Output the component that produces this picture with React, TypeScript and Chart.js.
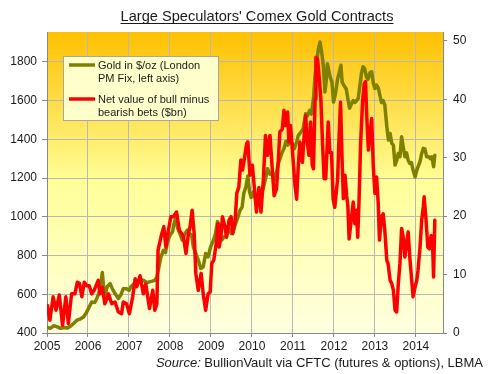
import React, { useEffect, useRef } from 'react';
import { Chart, registerables } from 'chart.js';

Chart.register(...registerables);

const titleText = "Large Speculators' Comex Gold Contracts";
const yearTicks = [2005, 2006, 2007, 2008, 2009, 2010, 2011, 2012, 2013, 2014];
const leftTicks = [400, 600, 800, 1000, 1200, 1400, 1600, 1800];
const rightTicks = [0, 10, 20, 30, 40, 50];
const legendGold = ['Gold in $/oz (London', 'PM Fix, left axis)'];
const legendNet = ['Net value of bull minus', 'bearish bets ($bn)'];
const sourceItalic = 'Source:';
const sourceRest = ' BullionVault via CFTC (futures & options), LBMA';

const goldDates = [
  2005.00, 2005.08, 2005.17, 2005.25, 2005.33, 2005.42, 2005.50, 2005.58, 2005.65, 2005.73,
  2005.81, 2005.89, 2005.96, 2006.03, 2006.09, 2006.17, 2006.23, 2006.29, 2006.35, 2006.38,
  2006.42, 2006.47, 2006.54, 2006.60, 2006.66, 2006.74, 2006.80, 2006.86, 2006.94, 2007.00,
  2007.05, 2007.13, 2007.19, 2007.27, 2007.35, 2007.44, 2007.50, 2007.57, 2007.63, 2007.68,
  2007.73, 2007.78, 2007.84, 2007.89, 2007.94, 2008.00, 2008.06, 2008.10, 2008.14, 2008.19,
  2008.24, 2008.30, 2008.37, 2008.42, 2008.47, 2008.53, 2008.57, 2008.63, 2008.69, 2008.75,
  2008.81, 2008.87, 2008.93, 2008.99, 2009.06, 2009.11, 2009.16, 2009.20, 2009.26, 2009.32,
  2009.38, 2009.44, 2009.49, 2009.54, 2009.60, 2009.66, 2009.71, 2009.76, 2009.80, 2009.85,
  2009.90, 2009.94, 2009.98, 2010.04, 2010.10, 2010.16, 2010.22, 2010.28, 2010.33, 2010.38,
  2010.44, 2010.50, 2010.55, 2010.60, 2010.64, 2010.70, 2010.74, 2010.78, 2010.83, 2010.87,
  2010.92, 2010.97, 2011.03, 2011.09, 2011.13, 2011.17, 2011.25, 2011.31, 2011.35, 2011.41,
  2011.45, 2011.50, 2011.54, 2011.58, 2011.62, 2011.66, 2011.70, 2011.74, 2011.78, 2011.81,
  2011.84, 2011.87, 2011.91, 2011.95, 2011.99, 2012.04, 2012.09, 2012.13, 2012.17, 2012.20,
  2012.24, 2012.30, 2012.34, 2012.38, 2012.43, 2012.47, 2012.51, 2012.55, 2012.59, 2012.63,
  2012.67, 2012.71, 2012.75, 2012.79, 2012.83, 2012.88, 2012.92, 2012.96, 2013.00, 2013.04,
  2013.08, 2013.12, 2013.16, 2013.20, 2013.24, 2013.29, 2013.33, 2013.37, 2013.41, 2013.45,
  2013.49, 2013.53, 2013.57, 2013.61, 2013.65, 2013.69, 2013.73, 2013.77, 2013.81, 2013.85,
  2013.89, 2013.93, 2013.98, 2014.02, 2014.05, 2014.10, 2014.14, 2014.18, 2014.22, 2014.26,
  2014.31, 2014.35, 2014.39, 2014.43, 2014.46,
];
const goldPrice = [
  428, 424, 438, 432, 424, 428, 426, 436, 449, 466,
  472, 483, 505, 534, 560, 558, 586, 620, 712, 640,
  600, 640, 655, 625, 604, 578, 596, 629, 629, 620,
  640, 655, 664, 675, 672, 660, 664, 668, 672, 689,
  741, 793, 827, 815, 870, 905, 922, 965, 995, 940,
  914, 880, 914, 931, 914, 905, 844, 810, 776, 733,
  741, 810, 793, 844, 879, 914, 975, 960, 879, 896,
  905, 940, 914, 922, 965, 1000, 1034, 1050, 1120, 1154,
  1210, 1130, 1100, 1130, 1080, 1110, 1110, 1150, 1196, 1248,
  1220, 1230, 1190, 1230, 1273, 1310, 1334, 1351, 1390, 1370,
  1385, 1385, 1351, 1385, 1420, 1430, 1454, 1532, 1520, 1550,
  1530, 1609, 1730, 1799, 1868, 1902, 1851, 1782, 1644, 1700,
  1790, 1760, 1720, 1696, 1592, 1640, 1713, 1747, 1782, 1696,
  1680, 1660, 1609, 1560, 1585, 1600, 1590, 1600, 1610, 1671,
  1740, 1775, 1765, 1723, 1710, 1745, 1749, 1690, 1663, 1680,
  1665, 1628, 1590, 1600, 1577, 1465, 1396, 1430, 1379, 1370,
  1267, 1290, 1327, 1310, 1413, 1360, 1310, 1330, 1292, 1275,
  1280, 1241, 1206, 1240, 1258, 1285, 1327, 1353, 1350, 1310,
  1310, 1300, 1310, 1258, 1318,
];

const netDates = [
  2005.01, 2005.07, 2005.15, 2005.22, 2005.30, 2005.38, 2005.46, 2005.52, 2005.60, 2005.68,
  2005.74, 2005.79, 2005.85, 2005.91, 2005.97, 2006.03, 2006.09, 2006.15, 2006.25, 2006.29,
  2006.35, 2006.41, 2006.50, 2006.58, 2006.66, 2006.74, 2006.82, 2006.86, 2006.94, 2007.01,
  2007.09, 2007.15, 2007.19, 2007.27, 2007.35, 2007.41, 2007.50, 2007.58, 2007.63, 2007.68,
  2007.71, 2007.80, 2007.85, 2007.90, 2007.96, 2008.02, 2008.08, 2008.16, 2008.23, 2008.29,
  2008.33, 2008.39, 2008.45, 2008.49, 2008.54, 2008.59, 2008.63, 2008.69, 2008.76, 2008.81,
  2008.87, 2008.93, 2008.98, 2009.02, 2009.07, 2009.14, 2009.17, 2009.20, 2009.24, 2009.28,
  2009.34, 2009.38, 2009.44, 2009.49, 2009.53, 2009.59, 2009.63, 2009.68, 2009.73, 2009.77,
  2009.81, 2009.87, 2009.90, 2009.95, 2010.01, 2010.06, 2010.11, 2010.17, 2010.22, 2010.28,
  2010.33, 2010.38, 2010.44, 2010.50, 2010.54, 2010.60, 2010.64, 2010.68, 2010.74, 2010.78,
  2010.82, 2010.87, 2010.90, 2010.94, 2010.99, 2011.05, 2011.09, 2011.13, 2011.17, 2011.23,
  2011.28, 2011.31, 2011.35, 2011.39, 2011.43, 2011.47, 2011.50, 2011.54, 2011.56, 2011.60,
  2011.63, 2011.68, 2011.72, 2011.76, 2011.80, 2011.86, 2011.90, 2011.94, 2011.98, 2012.02,
  2012.09, 2012.12, 2012.16, 2012.20, 2012.23, 2012.27, 2012.31, 2012.34, 2012.37, 2012.43,
  2012.47, 2012.51, 2012.55, 2012.58, 2012.61, 2012.65, 2012.70, 2012.74, 2012.77, 2012.80,
  2012.84, 2012.88, 2012.92, 2012.96, 2013.00, 2013.04, 2013.08, 2013.11, 2013.16, 2013.20,
  2013.24, 2013.29, 2013.32, 2013.37, 2013.41, 2013.45, 2013.49, 2013.53, 2013.57, 2013.61,
  2013.65, 2013.69, 2013.73, 2013.77, 2013.81, 2013.85, 2013.89, 2013.93, 2013.98, 2014.02,
  2014.05, 2014.10, 2014.14, 2014.18, 2014.20, 2014.24, 2014.29, 2014.33, 2014.37, 2014.41,
  2014.43, 2014.46,
];
const netValue = [
  4.7, 2.2, 6.2, 3.9, 6.5, 1.3, 6.2, 1.6, 6.7, 6.7,
  8.7, 8.5, 6.2, 8.7, 8.1, 8.1, 6.7, 7.3, 9.0, 6.7,
  7.8, 5.0, 6.7, 5.0, 5.3, 3.6, 3.3, 5.3, 5.0, 3.3,
  6.2, 9.3, 7.9, 9.8, 6.7, 8.4, 4.2, 7.3, 3.9, 5.0,
  14.2, 17.0, 18.2, 14.7, 17.5, 19.9, 19.9, 20.7, 17.5, 17.0,
  16.4, 13.6, 17.0, 18.2, 21.0, 17.0, 10.2, 7.3, 10.2, 6.7,
  3.9, 6.7, 7.0, 11.9, 12.5, 15.9, 18.7, 14.7, 16.4, 19.9,
  18.2, 16.4, 19.3, 19.9, 17.0, 19.3, 23.9, 25.0, 29.6, 27.9,
  29.6, 32.4, 32.7, 27.0, 28.7, 24.7, 20.7, 24.9, 20.7, 26.4,
  33.8, 30.4, 33.8, 27.5, 23.5, 24.7, 29.2, 34.4, 34.9, 38.1,
  35.5, 37.8, 32.7, 35.5, 30.9, 25.2, 22.9, 28.7, 32.7, 29.2,
  34.4, 37.2, 32.7, 30.4, 36.1, 28.7, 28.1, 40.1, 47.2, 46.9,
  44.6, 40.1, 32.7, 26.4, 26.4, 36.1, 30.9, 30.9, 22.9, 21.5,
  26.4, 32.7, 39.5, 29.2, 23.0, 27.0, 23.5, 21.6, 16.1, 19.9,
  22.4, 18.7, 21.0, 16.4, 22.2, 32.4, 39.8, 42.7, 43.0, 37.0,
  31.3, 34.1, 36.7, 28.4, 23.9, 26.7, 22.2, 15.9, 19.9, 20.4,
  17.6, 12.4, 11.9, 9.0, 8.5, 7.3, 3.9, 3.6, 8.5, 11.9,
  17.9, 16.4, 13.0, 15.3, 17.3, 13.0, 9.6, 6.2, 7.9, 9.0,
  10.7, 14.7, 19.3, 21.6, 23.3, 19.9, 14.7, 14.4, 16.7, 14.2,
  9.6, 19.3,
];

const FONT = '"Liberation Sans", Arial, Helvetica, sans-serif';
const GOLD = '#7F7F00';
const RED = '#FF0000';
const TEXT = '#1a1a1a';

const bgPlugin = {
  id: 'plotBg',
  beforeDraw(chart: any) {
    const { ctx, chartArea: a } = chart;
    const g = ctx.createLinearGradient(0, a.top, 0, a.bottom);
    g.addColorStop(0, '#FFC000');
    g.addColorStop(0.5, '#FFFF99');
    g.addColorStop(1, '#FFFFE0');
    ctx.save();
    ctx.fillStyle = g;
    ctx.fillRect(a.left, a.top, a.right - a.left, a.bottom - a.top);
    ctx.restore();
  },
};

const decorPlugin = {
  id: 'decor',
  afterDraw(chart: any) {
    const { ctx } = chart;
    ctx.save();
    // Title
    ctx.font = `14.6px ${FONT}`;
    ctx.fillStyle = TEXT;
    ctx.textAlign = 'center';
    ctx.textBaseline = 'alphabetic';
    const tx = 257;
    ctx.fillText(titleText, tx, 21);
    const tw = ctx.measureText(titleText).width;
    ctx.strokeStyle = TEXT;
    ctx.lineWidth = 1;
    ctx.beginPath();
    ctx.moveTo(tx - tw / 2, 23.5);
    ctx.lineTo(tx + tw / 2, 23.5);
    ctx.stroke();

    // Legend box
    ctx.fillStyle = '#FFFFCC';
    ctx.fillRect(63, 56, 156, 65);
    ctx.strokeStyle = '#A6A6A6';
    ctx.strokeRect(63.5, 56.5, 155, 64);
    ctx.lineWidth = 3.5;
    ctx.strokeStyle = GOLD;
    ctx.beginPath();
    ctx.moveTo(69, 65);
    ctx.lineTo(95, 65);
    ctx.stroke();
    ctx.strokeStyle = RED;
    ctx.beginPath();
    ctx.moveTo(69, 99);
    ctx.lineTo(95, 99);
    ctx.stroke();
    ctx.font = `11px ${FONT}`;
    ctx.fillStyle = TEXT;
    ctx.textAlign = 'left';
    ctx.fillText(legendGold[0], 98, 69);
    ctx.fillText(legendGold[1], 98, 82);
    ctx.fillText(legendNet[0], 98, 103);
    ctx.fillText(legendNet[1], 98, 116);

    // Source
    ctx.font = `13px ${FONT}`;
    const rw = ctx.measureText(sourceRest).width;
    ctx.font = `italic 13px ${FONT}`;
    const iw = ctx.measureText(sourceItalic).width;
    const right = 483;
    const sy = 367;
    ctx.fillText(sourceItalic, right - rw - iw, sy);
    ctx.font = `13px ${FONT}`;
    ctx.fillText(sourceRest, right - rw, sy);
    ctx.restore();
  },
};

export default function App() {
  const ref = useRef<HTMLCanvasElement>(null);
  useEffect(() => {
    const chart = new Chart(ref.current as HTMLCanvasElement, {
      type: 'line',
      data: {
        datasets: [
          {
            label: 'Net value of bull minus bearish bets ($bn)',
            data: netDates.map((d, i) => ({ x: d, y: netValue[i] })),
            yAxisID: 'y1',
            borderColor: RED,
            borderWidth: 3.5,
            pointRadius: 0,
            tension: 0,
            borderJoinStyle: 'round',
            borderCapStyle: 'round',
            order: 0,
          },
          {
            label: 'Gold in $/oz (London PM Fix, left axis)',
            data: goldDates.map((d, i) => ({ x: d, y: goldPrice[i] })),
            yAxisID: 'y',
            borderColor: GOLD,
            borderWidth: 3.5,
            pointRadius: 0,
            tension: 0,
            borderJoinStyle: 'round',
            borderCapStyle: 'round',
            order: 1,
          },
        ],
      },
      options: {
        responsive: false,
        animation: false,
        devicePixelRatio: 1,
        layout: { padding: { top: 32, left: 0, right: 0, bottom: 0 } },
        plugins: { legend: { display: false }, tooltip: { enabled: false }, title: { display: false } },
        scales: {
          x: {
            type: 'linear',
            min: 2005,
            max: 2014.66,
            afterBuildTicks: (s: any) => { s.ticks = yearTicks.map((v) => ({ value: v })); },
            afterFit: (s: any) => { s.height = 41; },
            ticks: {
              callback: (v: any) => String(v),
              font: { family: FONT, size: 12 },
              color: TEXT,
              padding: 2,
              maxRotation: 0,
              autoSkip: false,
            },
            grid: { color: '#B8B8B8', lineWidth: 1, tickLength: 4, tickColor: '#888888' },
            border: { color: '#888888' },
          },
          y: {
            type: 'linear',
            position: 'left',
            min: 400,
            max: 1954,
            afterBuildTicks: (s: any) => { s.ticks = leftTicks.map((v) => ({ value: v })); },
            afterFit: (s: any) => { s.width = 47; },
            ticks: {
              callback: (v: any) => String(v),
              font: { family: FONT, size: 12 },
              color: TEXT,
              padding: 5,
            },
            grid: { color: '#B8B8B8', lineWidth: 1, tickLength: 5, tickColor: '#888888' },
            border: { color: '#888888' },
          },
          y1: {
            type: 'linear',
            position: 'right',
            min: 0,
            max: 51.5,
            afterBuildTicks: (s: any) => { s.ticks = rightTicks.map((v) => ({ value: v })); },
            afterFit: (s: any) => { s.width = 45; },
            ticks: {
              callback: (v: any) => String(v),
              font: { family: FONT, size: 12 },
              color: TEXT,
              padding: 6,
            },
            grid: { drawOnChartArea: false, tickLength: 4, tickColor: '#888888' },
            border: { color: '#888888' },
          },
        },
      },
      plugins: [bgPlugin, decorPlugin],
    } as any);
    return () => chart.destroy();
  }, []);
  return (
    <div style={{ position: 'fixed', left: 0, top: 0, width: 488, height: 374, background: '#ffffff' }}>
      <canvas ref={ref} width={488} height={374} style={{ display: 'block', width: 488, height: 374 }} />
    </div>
  );
}
